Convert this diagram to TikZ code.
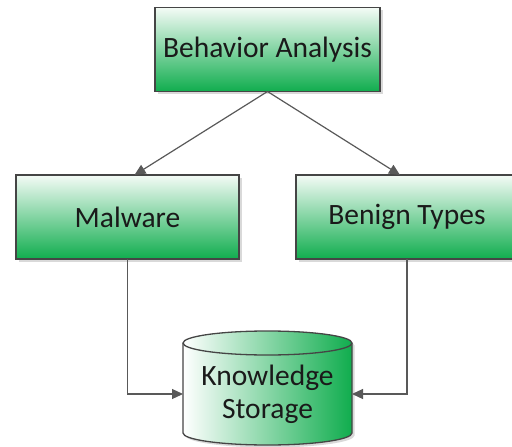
\documentclass[tikz,border=0pt]{standalone}
\usepackage{fontspec}
\setmainfont{Carlito}
\usetikzlibrary{arrows.meta,shadows,calc}
\definecolor{boxgreen}{HTML}{10AD4E}
\definecolor{boxpale}{HTML}{F4FBF6}
\definecolor{edgegray}{HTML}{454545}
\definecolor{linegray}{HTML}{595959}
\definecolor{txt}{HTML}{1A1A1A}
\begin{document}
\begin{tikzpicture}[x=1pt,y=-1pt,
  stagebox/.style={draw=edgegray, line width=1.3pt, top color=boxpale, bottom color=boxgreen,
    minimum width=224pt, minimum height=84pt, outer sep=0pt, text=txt,
    font=\fontsize{29.5}{34}\selectfont,
    drop shadow={shadow xshift=2.5pt, shadow yshift=-2.5pt, opacity=0.25, fill=black!60}},
  flow/.style={draw=linegray, line width=1.2pt, -{Triangle[length=11pt,width=10pt]}}]
\useasboundingbox (0,0) rectangle (512,447);
\clip (0,0) rectangle (512,447);

% the three process boxes
\node[stagebox, minimum width=225pt] (beh) at (267.5,49.5) {Behavior Analysis};
\node[stagebox, minimum width=223pt] (mal) at (127.5,217) {Malware};
\node[stagebox, minimum width=222pt] (ben) at (407,217) {Benign Types};

% storage cylinder
\fill[black!60, opacity=0.25, xshift=2.5pt, yshift=-2.5pt]
  (183,343) -- (183,433) arc[start angle=180, end angle=0, x radius=84.5, y radius=12]
  -- (352,343) arc[start angle=0, end angle=-180, x radius=84.5, y radius=12] -- cycle;
\shade[left color=white, right color=boxgreen]
  (183,343) -- (183,433) arc[start angle=180, end angle=0, x radius=84.5, y radius=12]
  -- (352,343) arc[start angle=0, end angle=-180, x radius=84.5, y radius=12] -- cycle;
\draw[edgegray, line width=1.3pt, line join=round]
  (183,343) -- (183,433) arc[start angle=180, end angle=0, x radius=84.5, y radius=12]
  -- (352,343) arc[start angle=0, end angle=-180, x radius=84.5, y radius=12] -- cycle;
\draw[edgegray, line width=1.3pt]
  (183,343) arc[start angle=180, end angle=0, x radius=84.5, y radius=12];
\node[minimum width=169pt, minimum height=60pt, outer sep=0pt, align=center, text=txt,
  font=\fontsize{29.5}{33}\selectfont] (ks) at (267.5,394) {Knowledge\\Storage};

% connectors
\draw[flow] (beh.south) -- ([xshift=7pt]mal.north);
\draw[flow] (beh.south) -- ([xshift=-7pt]ben.north);
\draw[flow] (mal.south) |- (ks.west);
\draw[flow] (ben.south) |- (ks.east);
\end{tikzpicture}
\end{document}
